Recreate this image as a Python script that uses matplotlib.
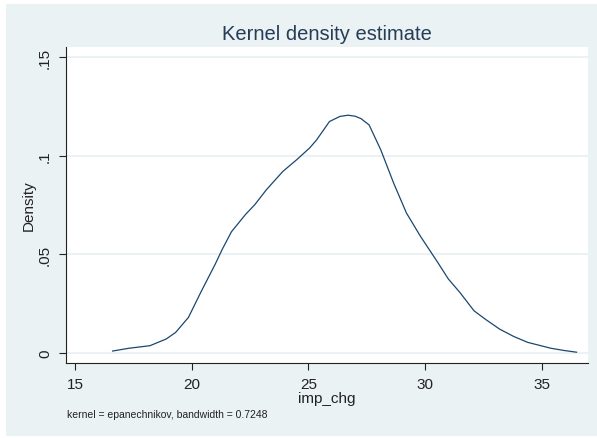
import matplotlib
matplotlib.use("Agg")
import matplotlib.pyplot as plt
from matplotlib.patches import Rectangle

# =========================================================
# DATA
# =========================================================
IMP_CHG = [16.6, 17.3, 18.2, 18.9, 19.3, 19.85, 20.4, 21.0, 21.3, 21.7,
           22.3, 22.7, 23.2, 23.9, 24.5, 25.05, 25.35, 25.9, 26.35, 26.7,
           27.0, 27.25, 27.6, 28.1, 28.65, 29.2, 29.8, 30.55, 31.0, 31.5,
           32.1, 32.6, 33.2, 33.8, 34.4, 35.4, 35.95, 36.5]
DENSITY = [0.0010, 0.0024, 0.0037, 0.0071, 0.0104, 0.0180, 0.0312, 0.0450,
           0.0525, 0.0615, 0.0702, 0.0752, 0.0828, 0.0920, 0.0980, 0.1039,
           0.1080, 0.1173, 0.1199, 0.1205, 0.1200, 0.1188, 0.1156, 0.1030,
           0.0862, 0.0710, 0.0592, 0.0458, 0.0375, 0.0306, 0.0214, 0.0170,
           0.0121, 0.0084, 0.0054, 0.0024, 0.0013, 0.0004]

X_TICKS = [15, 20, 25, 30, 35]
Y_TICKS = [0, 0.05, 0.1, 0.15]
Y_TICK_LABELS = ["0", ".05", ".1", ".15"]

TITLE = "Kernel density estimate"
NOTE = "kernel = epanechnikov, bandwidth = 0.7248"

# =========================================================
# STYLE
# =========================================================
BG    = "#eaf2f3"
NAVY  = "#1a476f"
plt.rcParams["font.family"] = ["Liberation Sans", "DejaVu Sans"]

W, H = 597, 439
fig = plt.figure(figsize=(W / 100, H / 100), dpi=100)
fig.patch.set_facecolor("white")
fig.patches.append(Rectangle((6 / W, 2 / H), 591 / W, 432 / H,
                             transform=fig.transFigure, facecolor=BG,
                             edgecolor="none", zorder=-10))

ax = fig.add_axes([66 / W, 75 / H, 522 / W, 316 / H])
ax.set_facecolor("white")

ax.plot(IMP_CHG, DENSITY, color=NAVY, lw=0.9)

ax.set_xlim(14.6, 36.99)
ax.set_ylim(-0.00507, 0.15507)

ax.set_xticks(X_TICKS)
ax.set_yticks(Y_TICKS)
ax.set_yticklabels(Y_TICK_LABELS, rotation=90, va="center")
ax.tick_params(axis="both", direction="out", length=5, width=0.8,
               colors="#222222", labelsize=11)
ax.tick_params(axis="x", pad=5)
ax.tick_params(axis="y", pad=5)

ax.grid(axis="y", color=BG, lw=1.5)
ax.set_axisbelow(True)

for side in ["top", "right"]:
    ax.spines[side].set_visible(False)
for side in ["left", "bottom"]:
    ax.spines[side].set_color("#222222")
    ax.spines[side].set_linewidth(0.8)

ax.set_xlabel("imp_chg", fontsize=11, color="#222222", labelpad=0)
ax.set_ylabel("Density", fontsize=11, color="#222222", labelpad=2)
ax.set_title(TITLE, fontsize=14.5, color="#263c58", pad=6)

fig.text(67 / W, 1 - 415 / H, NOTE, fontsize=7.5, color="#222222",
         ha="left", va="center")

fig.savefig("out.png", dpi=100, facecolor=fig.get_facecolor())
